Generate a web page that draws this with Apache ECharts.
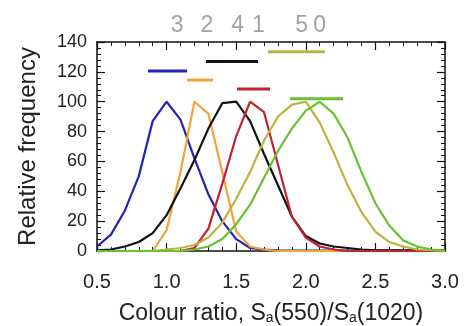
<!DOCTYPE html>
<html>
<head>
<meta charset="utf-8">
<script src="https://cdn.jsdelivr.net/npm/echarts@6/dist/echarts.min.js"></script>
<style>html,body{margin:0;padding:0;background:#fff}#c{width:473px;height:326px}</style>
</head>
<body>
<div id="c"></div>
<script>
// x positions (colour ratio) for the histogram curves
const xs = [0.5,0.6,0.7,0.8,0.9,1.0,1.1,1.2,1.3,1.4,1.5,1.6,1.7,1.8,1.9,2.0,2.1,2.2,2.3,2.4,2.5,2.6,2.7,2.8,2.9,3.0];
// relative frequency of each set (named as in the top labels)
const set3 = [3,11,27,50,87,100,88,62,38,20,8,2,1,0.5,0.3,0.3,0.3,0.3,0.3,0.3,0.3,0.3,0.3,0.3,0.3,0.3];
const set2 = [0,0,0,0,0,14,53,100,92,53,13,3,1,0,0,0,0,0,0,0,0,0,0,0,0,0];
const set4 = [0.5,1,3,6,12,24,42,61,82,99,100,87,65,44,23,10,5,3,2,1,0.5,0.5,0.5,0.5,0.5,0.5];
const set1 = [0,0,0,0,0,0,0,2,15,45,77,100,93,58,23,9,3,1,0,0,0,0,0,0,0,0];
const set5 = [0,0,0,0,0,1,2,4,9,19,35,53,74,90,98,100,86,66,44,26,13,6,3,1,0.5,0];
const set0 = [0,0,0,0,0,0,0,1,3,8,18,31,49,67,82,94,100,92,76,53,32,17,7,3,1,0.5];
// horizontal range bars: start, end, level
const barStart = [0.866,1.147,1.283,1.506,1.728,1.887];
const barEnd   = [1.147,1.333,1.657,1.743,2.138,2.267];
const barLevel = [120.5,114.5,127,108.5,133.5,102];
// top labels
const topNames = ['3','2','4','1','5','0'];
const topX = [1.075,1.29,1.51,1.66,1.97,2.10];
const topLevel = 151;

const colors = ['#2424b4','#f2a33a','#111111','#c0222e','#bcb440','#66c230'];
const sets = [set3,set2,set4,set1,set5,set0];

const series = [];
sets.forEach((s,i)=>{
  series.push({type:'line', data: xs.map((x,k)=>[x,s[k]]), symbol:'none',
    lineStyle:{color:colors[i], width:2.2}, z:2+i});
});
barStart.forEach((b,i)=>{
  series.push({type:'line', data:[[barStart[i],barLevel[i]],[barEnd[i],barLevel[i]]], symbol:'none',
    lineStyle:{color:colors[i], width:3}, clip:false, z:10});
});
series.push({type:'scatter', clip:false, symbolSize:0,
  data: topX.map((x,i)=>({value:[x,topLevel], name:topNames[i]})),
  label:{show:true, position:'inside', formatter: p=>p.name, color:'#8a8a8a', fontSize:23, fontFamily:'Liberation Sans'}});

function mkAxis(extra){
  return Object.assign({
    axisLine:{show:true, onZero:false, lineStyle:{color:'#111', width:1.5}},
    axisTick:{show:true, inside:true, length:8, lineStyle:{color:'#111', width:1.2}},
    minorTick:{show:true, splitNumber:5, length:4, lineStyle:{color:'#111', width:1}},
    splitLine:{show:false}
  }, extra);
}
const chart = echarts.init(document.getElementById('c'));
chart.setOption({
  animation:false,
  grid:{left:97, right:28, top:42, bottom:75, outerBoundsMode:'none', containLabel:false},
  xAxis:[mkAxis({type:'value', min:0.5, max:3.0, interval:0.5, position:'bottom',
    axisLabel:{formatter:v=>v.toFixed(1), color:'#222', fontSize:20, margin:21, fontFamily:'Liberation Sans'},
    name:'Colour ratio, S{s|a}(550)/S{s|a}(1020)', nameLocation:'middle', nameGap:51,
    nameTextStyle:{color:'#222', fontSize:23, fontFamily:'Liberation Sans',
      rich:{s:{fontSize:14, fontFamily:'Liberation Sans', color:'#222', verticalAlign:'bottom', lineHeight:14}}}
  }), mkAxis({type:'value', min:0.5, max:3.0, interval:0.5, position:'top', axisLabel:{show:false}})],
  yAxis:[mkAxis({type:'value', min:0, max:140, interval:20, position:'left',
    axisLabel:{color:'#222', fontSize:18, margin:10, fontFamily:'Liberation Sans'},
    name:'Relative frequency', nameLocation:'middle', nameGap:57, nameRotate:90,
    nameTextStyle:{color:'#222', fontSize:24, fontFamily:'Liberation Sans'}
  }), mkAxis({type:'value', min:0, max:140, interval:20, position:'right', axisLabel:{show:false}})],
  series
});
</script>
</body>
</html>
